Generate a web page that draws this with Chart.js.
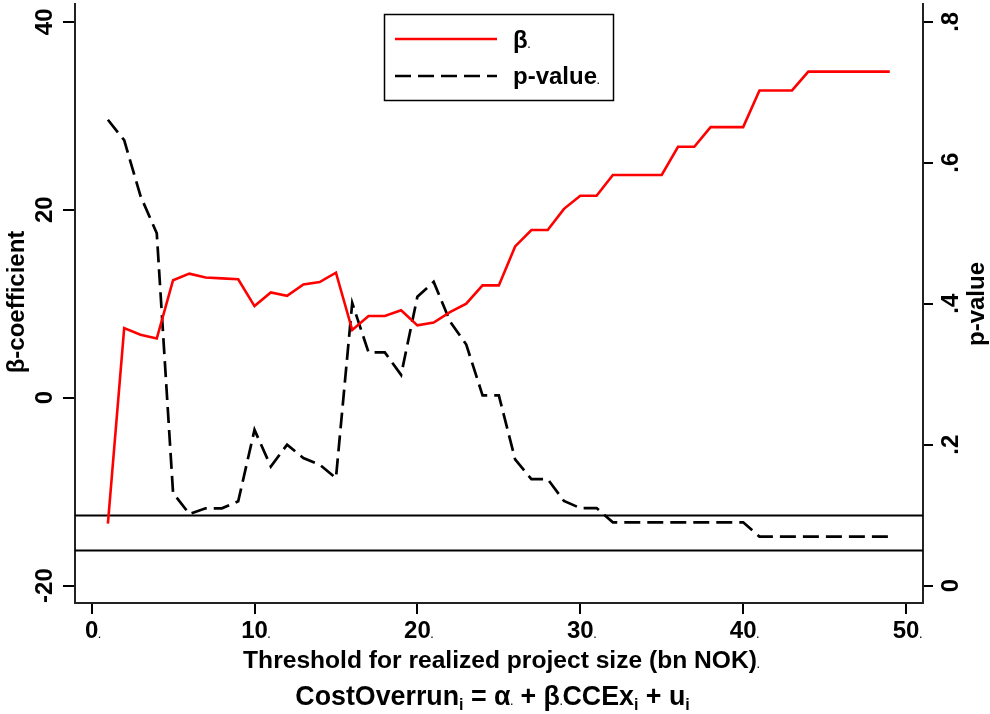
<!DOCTYPE html>
<html>
<head>
<meta charset="utf-8">
<script src="https://cdn.jsdelivr.net/npm/chart.js@4"></script>
<style>
  body { margin: 0; background: #fff; }
  canvas { display: block; }
</style>
</head>
<body>
<canvas id="chart" width="990" height="714"></canvas>
<script>
// thresholds (bn NOK) and the two estimated series
const thresholds = [1, 2, 3, 4, 5, 6, 7, 8, 9, 10, 11, 12, 13, 14, 15, 16, 17, 18, 19, 20,
    21, 22, 23, 24, 25, 26, 27, 28, 29, 30, 31, 32, 33, 34, 35, 36, 37, 38, 39, 40,
    41, 42, 43, 44, 45, 46, 47, 48, 49];
const betaCoef = [-13.4, 7.4, 6.7, 6.3, 12.5, 13.2, 12.8, 12.7, 12.6, 9.75,
    11.2, 10.85, 12.05, 12.3, 13.3, 7.2, 8.7, 8.7, 9.3, 7.7,
    8.0, 9.1, 10.0, 11.95, 11.95, 16.1, 17.85, 17.85, 20.1, 21.5,
    21.5, 23.7, 23.7, 23.7, 23.7, 26.7, 26.7, 28.8, 28.8, 28.8,
    32.7, 32.7, 32.7, 34.7, 34.7, 34.7, 34.7, 34.7, 34.7];
const pValues = [0.661, 0.632, 0.553, 0.50, 0.1315, 0.1017, 0.1097, 0.1097, 0.1196, 0.221,
    0.169, 0.20, 0.181, 0.1716, 0.1527, 0.401, 0.331, 0.331, 0.299, 0.41,
    0.431, 0.375, 0.342, 0.27, 0.27, 0.179, 0.151, 0.151, 0.12, 0.11,
    0.11, 0.0898, 0.0898, 0.0898, 0.0898, 0.0898, 0.0898, 0.0898, 0.0898, 0.0898,
    0.0695, 0.0695, 0.0695, 0.0695, 0.0695, 0.0695, 0.0695, 0.0695, 0.0695];

const xTicks = [0, 10, 20, 30, 40, 50];
const betaTicks = [-20, 0, 20, 40];
const pTicks = [0, 0.2, 0.4, 0.6, 0.8];
const pTickLabels = ['0', '.2', '.4', '.6', '.8'];
const sigLevels = [0.1, 0.05];

const FONT = '"Liberation Sans", Arial, sans-serif';
const f = size => 'bold ' + size + 'px ' + FONT;

// text followed by the small trailing dot seen in the original export
function dotText(ctx, text, x, y, size, align) {
    ctx.font = f(size);
    const w = ctx.measureText(text).width;
    let left = x;
    if (align === 'center') left = x - w / 2;
    ctx.textAlign = 'left';
    ctx.fillText(text, left, y);
    ctx.font = f(9);
    ctx.fillText('.', left + w, y);
}

const textPlugin = {
    id: 'textPlugin',
    beforeDatasetsDraw(chart) {
        const ctx = chart.ctx;
        const area = chart.chartArea;
        const yR = chart.scales.yR;
        ctx.save();
        ctx.strokeStyle = '#000';
        ctx.lineWidth = 2;
        sigLevels.forEach(v => {
            const py = Math.round(yR.getPixelForValue(v)) + 0.5;
            ctx.beginPath();
            ctx.moveTo(area.left, py);
            ctx.lineTo(area.right, py);
            ctx.stroke();
        });
        ctx.restore();
    },
    afterDraw(chart) {
        const ctx = chart.ctx;
        const { x, yL, yR } = chart.scales;
        ctx.save();
        ctx.fillStyle = '#000';
        ctx.textBaseline = 'alphabetic';

        // x tick labels
        xTicks.forEach(v => {
            const px = x.getPixelForValue(v);
            ctx.font = f(24);
            const w = ctx.measureText(String(v)).width;
            ctx.textAlign = 'left';
            ctx.fillText(String(v), px - w / 2, 638);
            ctx.font = f(9);
            ctx.fillText('.', px + w / 2, 638);
        });

        // left y tick labels (rotated)
        ctx.font = f(24);
        ctx.textAlign = 'center';
        betaTicks.forEach(v => {
            const py = yL.getPixelForValue(v);
            ctx.save();
            ctx.translate(52, py);
            ctx.rotate(-Math.PI / 2);
            ctx.fillText(String(v), 0, 0);
            ctx.restore();
        });

        // right y tick labels (rotated)
        pTicks.forEach((v, i) => {
            const py = yR.getPixelForValue(v);
            ctx.save();
            ctx.translate(958, py);
            ctx.rotate(-Math.PI / 2);
            ctx.fillText(pTickLabels[i], 0, 0);
            ctx.restore();
        });

        // axis titles
        ctx.font = f(24);
        ctx.save();
        ctx.translate(23.5, 302);
        ctx.rotate(-Math.PI / 2);
        ctx.fillText('β-coefficient', 0, 0);
        ctx.restore();

        ctx.save();
        ctx.translate(984, 304);
        ctx.rotate(-Math.PI / 2);
        ctx.fillText('p-value', 0, 0);
        ctx.restore();

        dotText(ctx, 'Threshold for realized project size (bn NOK)', 500, 668, 24.6, 'center');

        // formula line with subscripts
        const parts = [
            { t: 'CostOverrun' }, { t: 'i', sub: true }, { t: ' = ' }, { t: 'α' }, { dot: true },
            { t: ' + ' }, { t: 'β' }, { dot: true }, { t: 'CCEx' }, { t: 'i', sub: true },
            { t: ' + u' }, { t: 'i', sub: true }
        ];
        const fontFor = p => f(p.sub ? 16 : p.dot ? 9 : 26.8);
        let total = 0;
        parts.forEach(p => {
            ctx.font = fontFor(p);
            p.w = ctx.measureText(p.dot ? '.' : p.t).width;
            total += p.w;
        });
        let cx = 492.5 - total / 2;
        ctx.textAlign = 'left';
        parts.forEach(p => {
            ctx.font = fontFor(p);
            ctx.fillText(p.dot ? '.' : p.t, cx, p.sub ? 710 : 705);
            cx += p.w;
        });

        // legend box
        const ds = chart.data.datasets;
        ctx.strokeStyle = '#000';
        ctx.lineWidth = 1.5;
        ctx.strokeRect(384.5, 14.5, 229, 86);
        ctx.lineWidth = ds[0].borderWidth;
        ctx.strokeStyle = ds[0].borderColor;
        ctx.beginPath();
        ctx.moveTo(395, 39);
        ctx.lineTo(497, 39);
        ctx.stroke();
        ctx.lineWidth = ds[1].borderWidth;
        ctx.strokeStyle = ds[1].borderColor;
        ctx.setLineDash(ds[1].borderDash);
        ctx.beginPath();
        ctx.moveTo(395, 76);
        ctx.lineTo(497, 76);
        ctx.stroke();
        ctx.setLineDash([]);
        dotText(ctx, ds[0].label, 513, 48, 24, 'left');
        dotText(ctx, ds[1].label, 513, 84, 24, 'left');
        ctx.restore();
    }
};

const ctx = document.getElementById('chart').getContext('2d');
new Chart(ctx, {
    type: 'line',
    data: {
        datasets: [{
            label: 'β',
            data: thresholds.map((t, i) => ({ x: t, y: betaCoef[i] })),
            yAxisID: 'yL',
            borderColor: '#ff0000',
            borderWidth: 2.6,
            pointRadius: 0,
            tension: 0
        }, {
            label: 'p-value',
            data: thresholds.map((t, i) => ({ x: t, y: pValues[i] })),
            yAxisID: 'yR',
            borderColor: '#000000',
            borderWidth: 2.7,
            borderDash: [16, 7],
            pointRadius: 0,
            tension: 0
        }]
    },
    options: {
        responsive: false,
        animation: false,
        layout: { padding: { top: 4, left: 0, right: 0, bottom: 0 } },
        plugins: {
            legend: { display: false },
            tooltip: { enabled: false }
        },
        scales: {
            x: {
                type: 'linear',
                min: -1.02,
                max: 51.04,
                afterBuildTicks: s => { s.ticks = xTicks.map(v => ({ value: v })); },
                afterFit: s => { s.height = 111; },
                ticks: { display: false },
                grid: { drawOnChartArea: false, drawTicks: true, tickLength: 11, color: '#000', lineWidth: 2 },
                border: { display: true, color: '#222', width: 2 }
            },
            yL: {
                type: 'linear',
                position: 'left',
                min: -21.85,
                max: 41.9,
                afterBuildTicks: s => { s.ticks = betaTicks.map(v => ({ value: v })); },
                afterFit: s => { s.width = 75; },
                ticks: { display: false },
                grid: { drawOnChartArea: false, drawTicks: true, tickLength: 12, color: '#000', lineWidth: 2 },
                border: { display: true, color: '#222', width: 2 }
            },
            yR: {
                type: 'linear',
                position: 'right',
                min: -0.0247,
                max: 0.8253,
                afterBuildTicks: s => { s.ticks = pTicks.map(v => ({ value: v })); },
                afterFit: s => { s.width = 67; },
                ticks: { display: false },
                grid: { drawOnChartArea: false, drawTicks: true, tickLength: 10, color: '#000', lineWidth: 2 },
                border: { display: true, color: '#222', width: 2 }
            }
        }
    },
    plugins: [textPlugin]
});
</script>
</body>
</html>
